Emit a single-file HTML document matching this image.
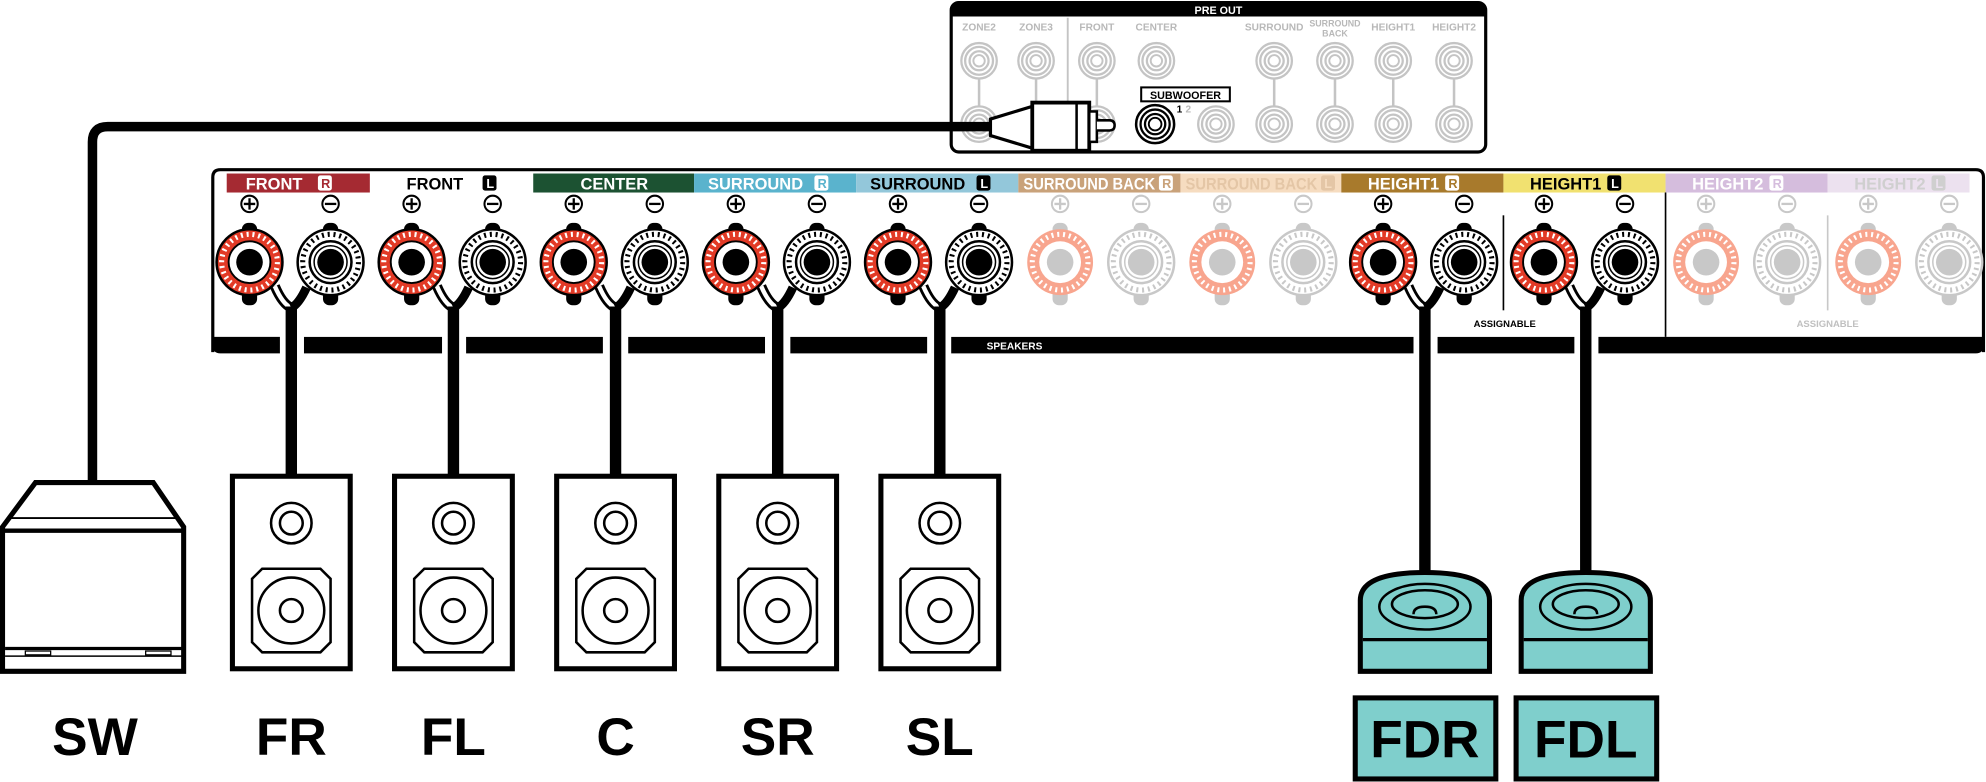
<!DOCTYPE html>
<html><head><meta charset="utf-8"><style>
html,body{margin:0;padding:0;background:#fff;}
svg{display:block;}
text{font-family:"Liberation Sans",sans-serif;font-weight:bold;}
</style></head><body>
<svg width="1986" height="782" viewBox="0 0 1568 617.4" preserveAspectRatio="none" xmlns="http://www.w3.org/2000/svg">
<defs>
<g id="nubA"><rect x="-6" y="-31" width="12" height="12" rx="5" fill="#000"/><rect x="-6" y="21" width="12" height="13" rx="5" fill="#000"/></g>
<g id="nubF"><rect x="-6" y="-31" width="12" height="12" rx="5" fill="#c8c8c8"/><rect x="-6" y="21" width="12" height="13" rx="5" fill="#c8c8c8"/></g>
<g id="tRA"><use href="#nubA"/><circle r="26" fill="#e23a26" stroke="#000" stroke-width="2"/><circle r="22" fill="none" stroke="#fff" stroke-width="4" stroke-dasharray="1.6 3"/><circle r="16.5" fill="#fff" stroke="#000" stroke-width="1.5"/><circle r="10.5" fill="#000"/></g>
<g id="tWA"><use href="#nubA"/><circle r="26" fill="#fff" stroke="#000" stroke-width="2"/><circle r="22" fill="none" stroke="#000" stroke-width="4" stroke-dasharray="1.6 3"/><circle r="16.5" fill="#fff" stroke="#000" stroke-width="2"/><circle r="13" fill="#fff" stroke="#000" stroke-width="1.2"/><circle r="10.5" fill="#000"/></g>
<g id="tRF"><use href="#nubF"/><circle r="26" fill="#f8a58e"/><circle r="22" fill="none" stroke="#fff" stroke-width="4" stroke-dasharray="1.6 3"/><circle r="16.5" fill="#fff"/><circle r="10.5" fill="#c8c8c8"/></g>
<g id="tWF"><use href="#nubF"/><circle r="26" fill="#fff" stroke="#c8c8c8" stroke-width="2"/><circle r="22" fill="none" stroke="#c8c8c8" stroke-width="4" stroke-dasharray="1.6 3"/><circle r="16.5" fill="#fff" stroke="#c8c8c8" stroke-width="2"/><circle r="13" fill="#fff" stroke="#c8c8c8" stroke-width="1.2"/><circle r="10.5" fill="#c8c8c8"/></g>
<g id="plusA"><circle r="6.5" fill="#fff" stroke="#000" stroke-width="1.6"/><path d="M-4.5 0H4.5M0 -4.5V4.5" stroke="#000" stroke-width="1.8"/></g>
<g id="minusA"><circle r="6.5" fill="#fff" stroke="#000" stroke-width="1.6"/><path d="M-4.5 0H4.5" stroke="#000" stroke-width="1.8"/></g>
<g id="plusF"><circle r="6.5" fill="#fff" stroke="#c8c8c8" stroke-width="1.6"/><path d="M-4.5 0H4.5M0 -4.5V4.5" stroke="#c8c8c8" stroke-width="1.8"/></g>
<g id="minusF"><circle r="6.5" fill="#fff" stroke="#c8c8c8" stroke-width="1.6"/><path d="M-4.5 0H4.5" stroke="#c8c8c8" stroke-width="1.8"/></g>
<g id="pairA"><use href="#plusA" y="161"/><use href="#minusA" x="64" y="161"/><use href="#tRA" y="207"/><use href="#tWA" x="64" y="207"/>
<path d="M20 226 Q26 240 33 243" fill="none" stroke="#000" stroke-width="8"/><path d="M20 226 Q26 240 33 243" fill="none" stroke="#fff" stroke-width="3.5"/>
<path d="M45 227 Q39 240 33 243" fill="none" stroke="#000" stroke-width="7"/></g>
<g id="pairF"><use href="#plusF" y="161"/><use href="#minusF" x="64" y="161"/><use href="#tRF" y="207"/><use href="#tWF" x="64" y="207"/></g>
<g id="jack"><circle r="14" fill="#fff" stroke="#c4c4c4" stroke-width="1.8"/><circle r="11" fill="none" stroke="#c4c4c4" stroke-width="1.8"/><circle r="7.5" fill="none" stroke="#c4c4c4" stroke-width="1.8"/><circle r="4.5" fill="none" stroke="#c4c4c4" stroke-width="1.5"/></g>
<g id="spk"><rect x="-46.5" y="376" width="93" height="152" fill="#fff" stroke="#000" stroke-width="4"/>
<circle cx="0" cy="413" r="16" fill="none" stroke="#000" stroke-width="2"/><circle cx="0" cy="413" r="9" fill="none" stroke="#000" stroke-width="2"/>
<path d="M-23 449H23L31 457V507L23 515H-23L-31 507V457Z" fill="none" stroke="#000" stroke-width="2"/>
<circle cx="0" cy="482" r="26" fill="none" stroke="#000" stroke-width="2"/><circle cx="0" cy="482" r="9" fill="none" stroke="#000" stroke-width="2"/></g>
<g id="hgt"><path d="M-51 530V474Q-51 452 0 452Q51 452 51 474V530Z" fill="#7fcfcc" stroke="#000" stroke-width="4"/>
<path d="M-49 505H49" stroke="#000" stroke-width="2.5"/>
<ellipse cx="0" cy="479" rx="36" ry="18" fill="none" stroke="#000" stroke-width="2"/>
<ellipse cx="0" cy="477" rx="26" ry="11" fill="none" stroke="#000" stroke-width="2"/>
<path d="M-9 485Q-9 479 0 479Q9 479 9 485" fill="none" stroke="#000" stroke-width="2"/></g>
</defs>

<rect x="751" y="2" width="422" height="118" rx="6" fill="#fff" stroke="#000" stroke-width="2.5"/>
<path d="M751 13V8Q751 2 757 2H1167Q1173 2 1173 8V13Z" fill="#000"/>
<text x="962" y="11" font-size="8.5" fill="#fff" text-anchor="middle">PRE OUT</text>
<line x1="843" y1="14" x2="843" y2="120" stroke="#c4c4c4" stroke-width="1.5"/>
<g font-size="8" fill="#b8b8b8" text-anchor="middle">
<text x="773" y="24">ZONE2</text><text x="818" y="24">ZONE3</text><text x="866" y="24">FRONT</text><text x="913" y="24">CENTER</text>
<text x="1006" y="24">SURROUND</text><text x="1054" y="21" font-size="7">SURROUND</text><text x="1054" y="29" font-size="7">BACK</text>
<text x="1100" y="24">HEIGHT1</text><text x="1148" y="24">HEIGHT2</text></g>
<g stroke="#c4c4c4" stroke-width="2">
<line x1="773" y1="60" x2="773" y2="85"/><line x1="818" y1="60" x2="818" y2="85"/><line x1="866" y1="60" x2="866" y2="85"/>
<line x1="1006" y1="60" x2="1006" y2="85"/><line x1="1054" y1="60" x2="1054" y2="85"/><line x1="1100" y1="60" x2="1100" y2="85"/><line x1="1148" y1="60" x2="1148" y2="85"/></g>
<use href="#jack" x="773" y="48"/><use href="#jack" x="818" y="48"/><use href="#jack" x="866" y="48"/><use href="#jack" x="913" y="48"/>
<use href="#jack" x="1006" y="48"/><use href="#jack" x="1054" y="48"/><use href="#jack" x="1100" y="48"/><use href="#jack" x="1148" y="48"/>
<use href="#jack" x="773" y="98"/><use href="#jack" x="818" y="98"/><use href="#jack" x="866" y="98"/><use href="#jack" x="960" y="98"/>
<use href="#jack" x="1006" y="98"/><use href="#jack" x="1054" y="98"/><use href="#jack" x="1100" y="98"/><use href="#jack" x="1148" y="98"/>
<circle cx="912" cy="98" r="15" fill="#fff" stroke="#000" stroke-width="2"/><circle cx="912" cy="98" r="11.5" fill="none" stroke="#000" stroke-width="1.8"/><circle cx="912" cy="98" r="8" fill="none" stroke="#000" stroke-width="1.8"/><circle cx="912" cy="98" r="5" fill="none" stroke="#000" stroke-width="1.5"/>
<rect x="901" y="69" width="70" height="11" fill="#fff" stroke="#000" stroke-width="1.6"/>
<text x="936" y="78" font-size="8.5" text-anchor="middle" fill="#000">SUBWOOFER</text>
<text x="929" y="89" font-size="8" fill="#000">1</text><text x="936" y="89" font-size="8" fill="#bbb">2</text>
<path d="M73 382V112Q73 100 85 100H790" fill="none" stroke="#000" stroke-width="7.5"/>
<path d="M782 94L815 84V117L782 107Z" fill="#fff" stroke="#000" stroke-width="2.5"/>
<rect x="815" y="81" width="45" height="38" fill="#fff" stroke="#000" stroke-width="3"/>
<line x1="850" y1="81" x2="850" y2="119" stroke="#000" stroke-width="2"/>
<rect x="860" y="88" width="6" height="24" fill="#fff" stroke="#000" stroke-width="2"/>
<path d="M866 95H876Q880 95 880 99Q880 103 876 103H866" fill="#fff" stroke="#000" stroke-width="2"/>

<path d="M168 278V140Q168 134 174 134H1560Q1566 134 1566 140V278" fill="#fff" stroke="#000" stroke-width="2.5"/>
<rect x="179" y="137" width="113" height="15" fill="#a52a32"/>
<rect x="421" y="137" width="127" height="15" fill="#1c5232"/>
<rect x="548" y="137" width="128" height="15" fill="#5ab3cd"/>
<rect x="676" y="137" width="128" height="15" fill="#93c7da"/>
<rect x="804" y="137" width="128" height="15" fill="#c9a27a"/>
<rect x="932" y="137" width="127" height="15" fill="#f6dcc0"/>
<rect x="1059" y="137" width="128" height="15" fill="#a87a2c"/>
<rect x="1187" y="137" width="128" height="15" fill="#f1e170"/>
<rect x="1315" y="137" width="128" height="15" fill="#d5bddd"/>
<rect x="1443" y="137" width="112" height="15" fill="#ece1ef"/>
<g font-size="13">
<text x="194" y="149.5" fill="#fff">FRONT</text><rect x="251" y="138.5" width="11" height="12" rx="2" fill="#fff"/><text x="253.5" y="148.5" font-size="10" fill="#a52a32">R</text>
<text x="321" y="149.5" fill="#000">FRONT</text><rect x="381" y="138.5" width="11" height="12" rx="2" fill="#000"/><text x="384" y="148.5" font-size="10" fill="#fff">L</text>
<text x="485" y="149.5" fill="#fff" text-anchor="middle">CENTER</text>
<text x="559" y="149.5" fill="#fff">SURROUND</text><rect x="643" y="138.5" width="11" height="12" rx="2" fill="#fff"/><text x="645.5" y="148.5" font-size="10" fill="#5ab3cd">R</text>
<text x="687" y="149.5" fill="#000">SURROUND</text><rect x="771" y="138.5" width="11" height="12" rx="2" fill="#000"/><text x="774" y="148.5" font-size="10" fill="#fff">L</text>
<text x="808" y="149.5" fill="#fff" textLength="104" lengthAdjust="spacingAndGlyphs">SURROUND BACK</text><rect x="915" y="138.5" width="11" height="12" rx="2" fill="#fff"/><text x="917.5" y="148.5" font-size="10" fill="#c9a27a">R</text>
<text x="936" y="149.5" fill="#e4c6a6" textLength="104" lengthAdjust="spacingAndGlyphs">SURROUND BACK</text><rect x="1043" y="138.5" width="11" height="12" rx="2" fill="#e4c6a6"/><text x="1045.5" y="148.5" font-size="10" fill="#f6dcc0">L</text>
<text x="1080" y="149.5" fill="#fff">HEIGHT1</text><rect x="1141" y="138.5" width="11" height="12" rx="2" fill="#fff"/><text x="1143.5" y="148.5" font-size="10" fill="#a87a2c">R</text>
<text x="1208" y="149.5" fill="#000">HEIGHT1</text><rect x="1269" y="138.5" width="11" height="12" rx="2" fill="#000"/><text x="1272" y="148.5" font-size="10" fill="#fff">L</text>
<text x="1336" y="149.5" fill="#fff">HEIGHT2</text><rect x="1397" y="138.5" width="11" height="12" rx="2" fill="#fff"/><text x="1399.5" y="148.5" font-size="10" fill="#d5bddd">R</text>
<text x="1464" y="149.5" fill="#cfcfcf">HEIGHT2</text><rect x="1525" y="138.5" width="11" height="12" rx="2" fill="#cfcfcf"/><text x="1528" y="148.5" font-size="10" fill="#ece1ef">L</text>
</g>
<line x1="1187" y1="170" x2="1187" y2="245" stroke="#000" stroke-width="1.3"/>
<line x1="1315" y1="152" x2="1315" y2="266" stroke="#000" stroke-width="1.3"/>
<line x1="1443" y1="170" x2="1443" y2="245" stroke="#c8c8c8" stroke-width="1.3"/>
<text x="1188" y="258" font-size="7.5" text-anchor="middle" fill="#000">ASSIGNABLE</text>
<text x="1443" y="258" font-size="7.5" text-anchor="middle" fill="#c0c0c0">ASSIGNABLE</text>
<use href="#pairA" x="197"/><use href="#pairA" x="325"/><use href="#pairA" x="453"/><use href="#pairA" x="581"/><use href="#pairA" x="709"/>
<use href="#pairF" x="837"/><use href="#pairF" x="965"/>
<use href="#pairA" x="1092"/><use href="#pairA" x="1219"/>
<use href="#pairF" x="1347"/><use href="#pairF" x="1475"/>
<path d="M168 266H221V279H174Q168 279 168 273Z" fill="#000"/>
<rect x="240" y="266" width="109" height="13" fill="#000"/>
<rect x="368" y="266" width="108" height="13" fill="#000"/>
<rect x="496" y="266" width="108" height="13" fill="#000"/>
<rect x="624" y="266" width="108" height="13" fill="#000"/>
<rect x="751" y="266" width="365" height="13" fill="#000"/>
<rect x="1135" y="266" width="108" height="13" fill="#000"/>
<path d="M1262 266H1566V273Q1566 279 1560 279H1262Z" fill="#000"/>
<text x="779" y="276" font-size="8" fill="#fff">SPEAKERS</text>
<g stroke="#000" stroke-width="9">
<line x1="230" y1="242" x2="230" y2="378"/><line x1="358" y1="242" x2="358" y2="378"/><line x1="486" y1="242" x2="486" y2="378"/>
<line x1="614" y1="242" x2="614" y2="378"/><line x1="742" y1="242" x2="742" y2="378"/>
<line x1="1125" y1="242" x2="1125" y2="454"/><line x1="1252" y1="242" x2="1252" y2="454"/></g>
<use href="#spk" x="230"/><use href="#spk" x="358"/><use href="#spk" x="486"/><use href="#spk" x="614"/><use href="#spk" x="742"/>
<path d="M28 381H121L145 416V530H2V416Z" fill="#fff" stroke="#000" stroke-width="4"/>
<line x1="6" y1="409" x2="141" y2="409" stroke="#000" stroke-width="1.5"/>
<line x1="3" y1="419" x2="145" y2="419" stroke="#000" stroke-width="3.5"/>
<line x1="4" y1="512" x2="144" y2="512" stroke="#000" stroke-width="2.5"/>
<line x1="4" y1="518" x2="144" y2="518" stroke="#000" stroke-width="1.2"/>
<rect x="20" y="514" width="20" height="3" fill="#fff" stroke="#000" stroke-width="1"/>
<rect x="115" y="514" width="20" height="3" fill="#fff" stroke="#000" stroke-width="1"/>
<use href="#hgt" x="1125"/><use href="#hgt" x="1252"/>
<rect x="1070" y="551" width="111" height="64" fill="#7fcfcc" stroke="#000" stroke-width="4"/>
<rect x="1197" y="551" width="111" height="64" fill="#7fcfcc" stroke="#000" stroke-width="4"/>
<g font-size="42" text-anchor="middle" fill="#000">
<text x="1125" y="598">FDR</text><text x="1252" y="598">FDL</text>
<text x="75" y="596">SW</text><text x="230" y="596">FR</text><text x="358" y="596">FL</text><text x="486" y="596">C</text><text x="614" y="596">SR</text><text x="742" y="596">SL</text>
</g>
</svg>
</body></html>
